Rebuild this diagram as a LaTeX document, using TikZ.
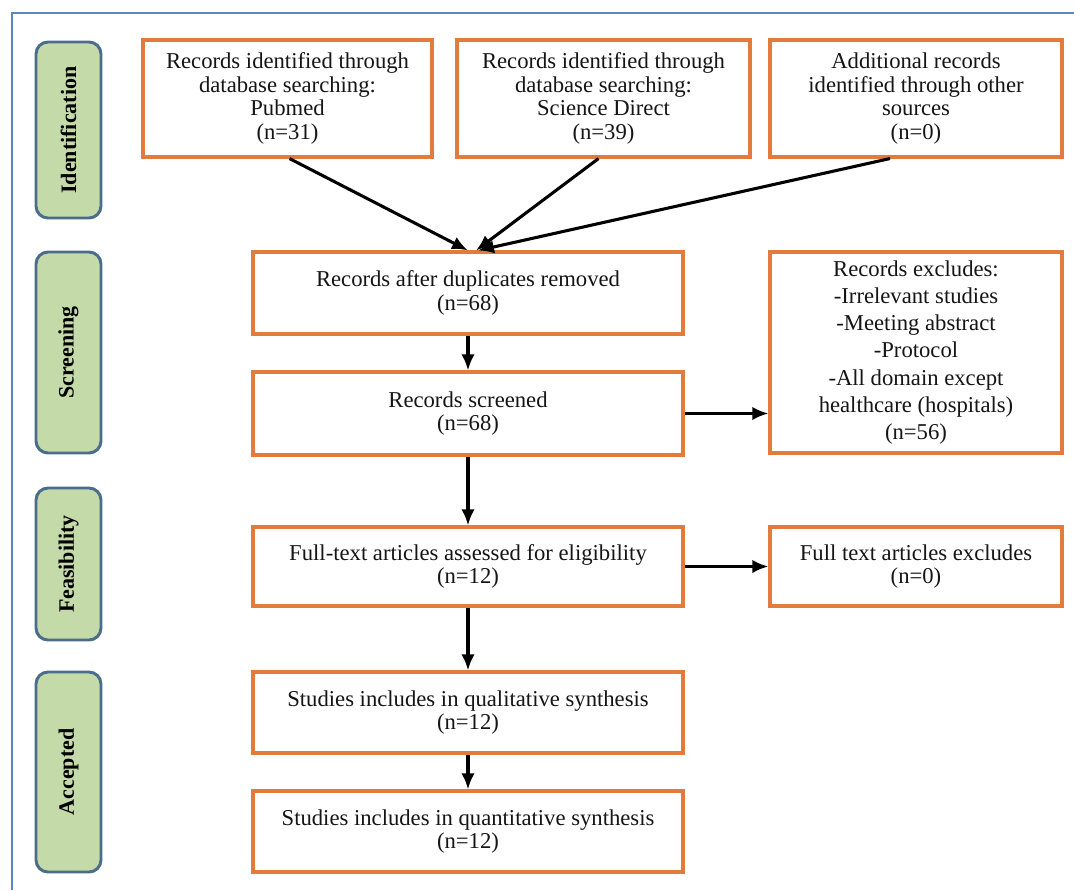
\documentclass[tikz,border=0pt]{standalone}
\usepackage{fontspec}
\setmainfont{Liberation Serif}
\usetikzlibrary{arrows.meta,calc}
\definecolor{boxorange}{HTML}{E27B3C}
\definecolor{pillgreen}{HTML}{C5DAA9}
\definecolor{pillblue}{HTML}{4A6D8C}
\definecolor{framblue}{HTML}{5B86C4}
\definecolor{txt}{HTML}{151515}
\tikzset{
  flowbox/.style={draw=boxorange, line width=2.3pt, fill=white, inner sep=0pt,
    align=center, text=txt, font=\fontsize{17}{17.6}\selectfont},
  pill/.style={draw=pillblue, line width=2.2pt, fill=pillgreen, rounded corners=9pt,
    inner sep=0pt, rotate=90, text=black, font=\fontsize{16.5}{18}\selectfont\bfseries},
  flowarrow/.style={line width=2.3pt, -{Latex[length=12pt,width=10pt]}}
}
\begin{document}
\begin{tikzpicture}[x=0.75pt,y=-0.75pt]
\useasboundingbox (0,0) rectangle (1074,890);
\fill[white] (0,0) rectangle (1074,890);
% frame (right and bottom edges lie outside the picture)
\draw[framblue, line width=2.2pt] (12,890) -- (12,13) -- (1074,13);

% phase labels
\node[pill, minimum width=132pt, minimum height=48.75pt] (ident) at (68.5,130) {Identification};
\node[pill, minimum width=150.75pt, minimum height=48.75pt] (scrn) at (68.5,352.5) {Screening};
\node[pill, minimum width=114pt, minimum height=48.75pt] (feas) at (68.5,564) {Feasibility};
\node[pill, minimum width=150pt, minimum height=48.75pt] (acc) at (68.5,772) {Accepted};

% identification boxes
\node[flowbox, minimum width=216.75pt, minimum height=87.75pt] (b1) at (287.5,98.5)
  {Records identified through\\database searching:\\Pubmed\\(n=31)};
\node[flowbox, minimum width=219.75pt, minimum height=87.75pt] (b2) at (603.5,98.5)
  {Records identified through\\database searching:\\Science Direct\\(n=39)};
\node[flowbox, minimum width=219pt, minimum height=87.75pt] (b3) at (916,98.5)
  {Additional records\\identified through other\\sources\\(n=0)};

% main column
\node[flowbox, minimum width=322.5pt, minimum height=61.5pt] (dup) at (468,293)
  {Records after duplicates removed\\(n=68)};
\node[flowbox, minimum width=322.5pt, minimum height=62.25pt] (scr) at (468,413.5)
  {Records screened\\(n=68)};
\node[flowbox, minimum width=322.5pt, minimum height=59.25pt] (full) at (468,566.5)
  {Full-text articles assessed for eligibility\\(n=12)};
\node[flowbox, minimum width=322.5pt, minimum height=60.75pt] (qual) at (468,712.5)
  {Studies includes in qualitative synthesis\\(n=12)};
\node[flowbox, minimum width=322.5pt, minimum height=60.75pt] (quant) at (468,831.5)
  {Studies includes in quantitative synthesis\\(n=12)};

% exclusion boxes
\node[flowbox, minimum width=219pt, minimum height=150.75pt,
  font=\fontsize{17}{20.3}\selectfont] (exc) at (916,352.5)
  {Records excludes:\\-Irrelevant studies\\-Meeting abstract\\-Protocol\\-All domain except\\healthcare (hospitals)\\(n=56)};
\node[flowbox, minimum width=219pt, minimum height=59.25pt] (fexc) at (916,566.5)
  {Full text articles excludes\\(n=0)};

% connectors
\draw[flowarrow] ($(b1.south)+(2,0)$) -- ($(dup.north)+(0,0)$);
\draw[flowarrow] ($(b2.south)+(-5,0)$) -- ($(dup.north)+(8,0)$);
\draw[flowarrow] ($(b3.south)+(-26,0)$) -- ($(dup.north)+(10,0)$);
\draw[flowarrow] (dup) -- (scr);
\draw[flowarrow] (scr.east) -- (scr.east -| exc.west);
\draw[flowarrow] (scr) -- (full);
\draw[flowarrow] (full) -- (fexc);
\draw[flowarrow] (full) -- (qual);
\draw[flowarrow] (qual) -- (quant);
\end{tikzpicture}
\end{document}
